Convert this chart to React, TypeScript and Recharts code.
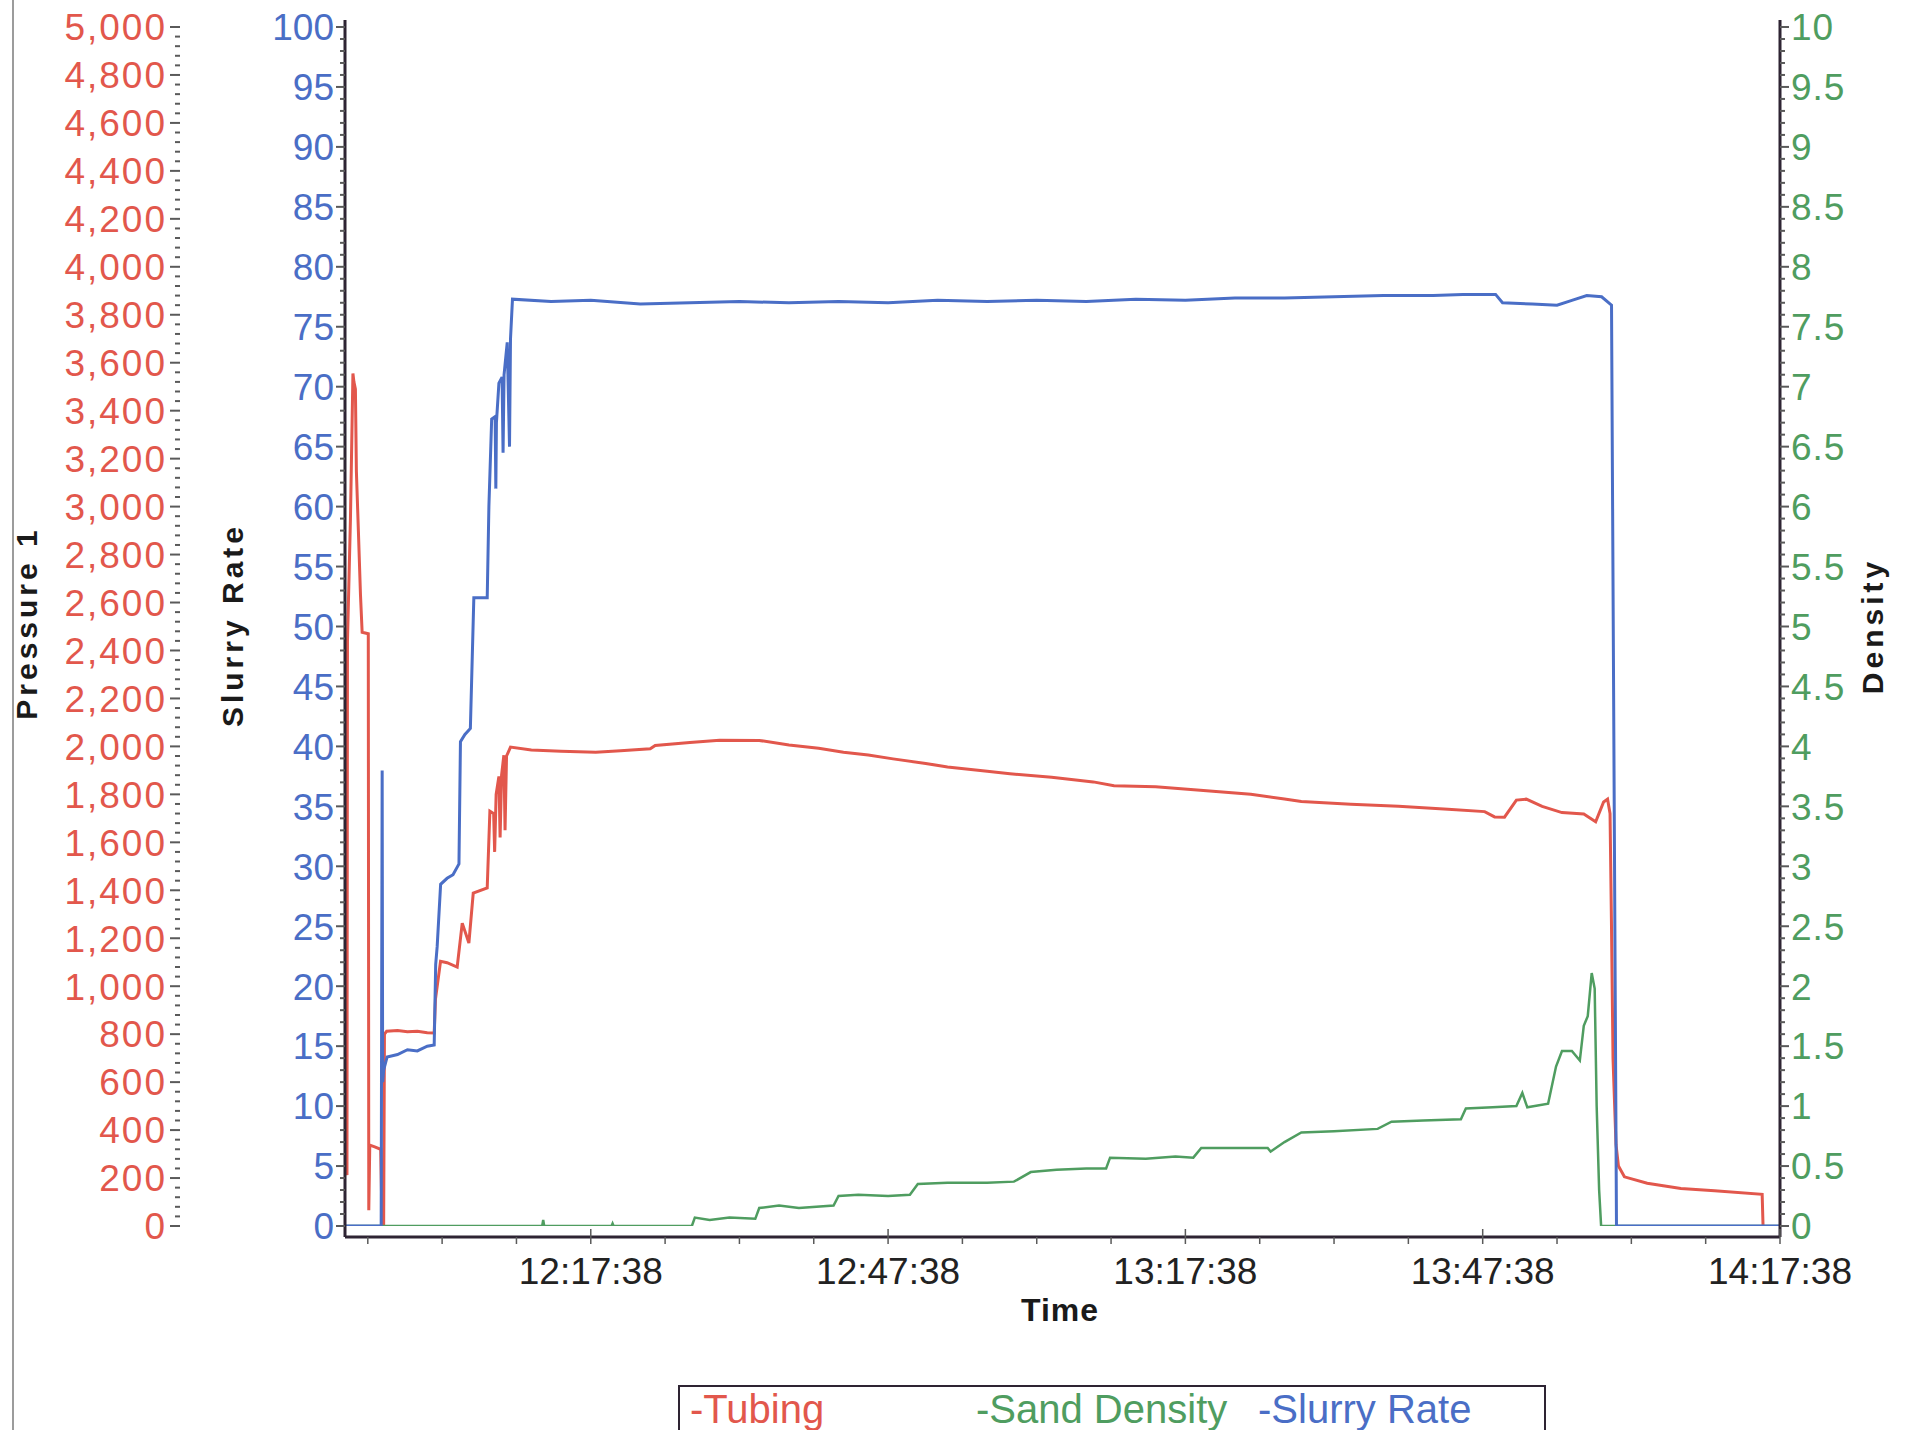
import React from "react";
import { LineChart, Line, XAxis, YAxis, Legend } from "recharts";

// time axis is in minutes after 11:47:38
const timeTicks = [30, 60, 90, 120, 150];
const timeTickLabels = ["12:17:38", "12:47:38", "13:17:38", "13:47:38", "14:17:38"];
const seriesNames = ["Tubing", "Sand Density", "Slurry Rate"];

// [minute, psi]
const tubing: [number, number][] = [
  [5.0, 215], [5.4, 218], [5.45, 2440], [5.75, 2950], [6.0, 3555], [6.1, 3520],
  [6.25, 3490], [6.35, 3146], [6.55, 2900], [6.76, 2634], [6.93, 2476], [7.55, 2470],
  [7.6, 66], [7.7, 337], [8.2, 330], [8.8, 320], [8.95, 0], [9.1, 0], [9.18, 800],
  [9.4, 812], [10.5, 815], [11.5, 810], [12.5, 812], [13.5, 806], [14.2, 805],
  [14.33, 946], [14.84, 1104], [15.5, 1098], [16.52, 1080], [17.03, 1263], [17.7, 1180],
  [18.14, 1388], [19.55, 1410], [19.82, 1730], [20.2, 1720], [20.3, 1560], [20.45, 1800],
  [20.73, 1875], [20.85, 1620], [21.0, 1880], [21.23, 1963], [21.35, 1650], [21.5, 1960],
  [21.9, 1997], [24, 1985], [27, 1980], [30.5, 1976], [33, 1982], [36, 1990], [36.5, 2004],
  [40, 2016], [43, 2026], [47, 2025], [50, 2006], [53, 1992], [55.5, 1976], [58, 1964],
  [60.5, 1948], [63.8, 1929], [66, 1914], [70, 1896], [72.3, 1886], [76.5, 1871],
  [80.7, 1852], [82.8, 1836], [87, 1832], [91.5, 1817], [96.6, 1800], [100, 1781],
  [101.7, 1770], [106.7, 1759], [111.5, 1750], [116.5, 1738], [120.2, 1728], [121.2, 1706],
  [122.2, 1705], [123.4, 1776], [124.4, 1780], [126, 1750], [128, 1724], [130.2, 1718],
  [131.4, 1686], [132.2, 1768], [132.6, 1780], [132.85, 1720], [133.0, 1240], [133.15, 700],
  [133.3, 520], [133.45, 340], [133.7, 250], [134.3, 205], [136.6, 178], [140, 156],
  [143.4, 147], [148.2, 132], [148.3, -15], [150, -19],
];

// [minute, density]
const sandDensity: [number, number][] = [
  [5.0, 0], [25.1, 0], [25.2, 0.05], [25.3, 0], [32.1, 0], [32.2, 0.02], [32.3, 0],
  [40.2, 0], [40.5, 0.07], [42, 0.05], [44, 0.07], [46.6, 0.06], [47.0, 0.15], [49, 0.17],
  [51, 0.15], [54.5, 0.17], [55.0, 0.25], [57, 0.26], [60, 0.25], [62.2, 0.26], [63.0, 0.35],
  [66, 0.36], [70, 0.36], [72.7, 0.37], [74.4, 0.45], [77, 0.47], [80, 0.48], [82.0, 0.48],
  [82.4, 0.57], [86, 0.56], [89, 0.58], [90.8, 0.57], [91.6, 0.65], [95, 0.65], [98.3, 0.65],
  [98.6, 0.62], [100, 0.7], [101.7, 0.78], [105, 0.79], [109.4, 0.81], [110.8, 0.87],
  [114, 0.88], [117.8, 0.89], [118.3, 0.98], [121, 0.99], [123.4, 1.0], [124.0, 1.11],
  [124.5, 0.99], [126.6, 1.02], [127.4, 1.33], [128.0, 1.46], [129.0, 1.46], [129.8, 1.38],
  [130.2, 1.67], [130.6, 1.75], [131.0, 2.11], [131.3, 1.98], [131.5, 1.0], [131.75, 0.3],
  [131.95, 0], [150, 0],
];

// [minute, bpm]
const slurryRate: [number, number][] = [
  [5.0, 0], [8.85, 0], [8.95, 38], [9.0, 12], [9.1, 13], [9.45, 14.1], [10.5, 14.3],
  [11.5, 14.7], [12.5, 14.6], [13.5, 15.0], [14.2, 15.1], [14.35, 21.8], [14.5, 23.3],
  [14.85, 28.5], [15.5, 29], [16.1, 29.3], [16.7, 30.2], [16.85, 40.4], [17.3, 41],
  [17.85, 41.5], [18.2, 52.4], [19.55, 52.4], [19.72, 60], [20.0, 67.3], [20.35, 67.5],
  [20.42, 61.5], [20.48, 67], [20.73, 70.3], [21.05, 70.8], [21.15, 64.5], [21.25, 71],
  [21.57, 73.7], [21.8, 65], [21.9, 74], [22.1, 77.3], [26, 77.1], [30, 77.2], [35, 76.9],
  [40, 77.0], [45, 77.1], [50, 77.0], [55, 77.1], [60, 77.0], [65, 77.2], [70, 77.1],
  [75, 77.2], [80, 77.1], [85, 77.3], [90, 77.2], [95, 77.4], [100, 77.4], [105, 77.5],
  [110, 77.6], [115, 77.6], [118, 77.7], [121.3, 77.7], [122, 77.0], [125, 76.9],
  [127.5, 76.8], [129, 77.2], [130.5, 77.6], [132, 77.5], [133.0, 76.8], [133.5, 0], [150, 0],
];

const RED = "#e2574c";
const BLUE = "#4a6ec6";
const GREEN = "#4f9d60";
const FRAME = "#2e2433";
const TICK = "#5a5a5a";
const FONT = "'Liberation Sans', Arial, sans-serif";

const toPoints = (rows: [number, number][]) => rows.map(([t, v]) => ({ t, v }));

const minorTimeTicks = Array.from({ length: 20 }, (_, i) => 7.5 * (i + 1));
const slurryTicks = Array.from({ length: 101 }, (_, i) => i);
const pressureTicks = Array.from({ length: 126 }, (_, i) => i * 40);
const densityTicks = Array.from({ length: 101 }, (_, i) => i / 10);

function TimeTick(props: any) {
  const { x, y, payload } = props;
  const idx = timeTicks.indexOf(payload.value);
  const major = idx >= 0;
  return (
    <g>
      <line x1={x} x2={x} y1={major ? y - 8 : y} y2={y + 7} stroke={TICK} strokeWidth={1.5} />
      {major && (
        <text x={x} y={y + 47} textAnchor="middle" fontSize={37} fill="#222" fontFamily={FONT}>
          {timeTickLabels[idx]}
        </text>
      )}
    </g>
  );
}

function PressureTick(props: any) {
  const { x, y, payload } = props;
  const v = payload.value;
  const major = v % 200 === 0;
  return (
    <g>
      <line x1={major ? x - 12 : x - 7} x2={x - 2} y1={y} y2={y} stroke={TICK} strokeWidth={2} />
      {major && (
        <text x={x - 15} y={y} dy="0.36em" textAnchor="end" fontSize={37} letterSpacing={2} fill={RED} fontFamily={FONT}>
          {v.toLocaleString("en-US")}
        </text>
      )}
    </g>
  );
}

function SlurryTick(props: any) {
  const { x, y, payload } = props;
  const v = payload.value;
  const major = v % 5 === 0;
  return (
    <g>
      <line x1={major ? x - 9 : x - 5} x2={x} y1={y} y2={y} stroke={TICK} strokeWidth={2} />
      {major && (
        <text x={x - 11} y={y} dy="0.36em" textAnchor="end" fontSize={37} fill={BLUE} fontFamily={FONT}>
          {v}
        </text>
      )}
    </g>
  );
}

function DensityTick(props: any) {
  const { x, y, payload } = props;
  const v = payload.value;
  const major = Math.abs(v * 2 - Math.round(v * 2)) < 1e-6;
  return (
    <g>
      <line x1={x} x2={major ? x + 9 : x + 5} y1={y} y2={y} stroke={TICK} strokeWidth={2} />
      {major && (
        <text x={x + 11} y={y} dy="0.36em" textAnchor="start" fontSize={37} letterSpacing={1} fill={GREEN} fontFamily={FONT}>
          {String(Math.round(v * 10) / 10)}
        </text>
      )}
    </g>
  );
}

function AxisTitle({ cx, cy, text, rotate }: { cx: number; cy: number; text: string; rotate?: boolean }) {
  return (
    <text
      x={cx}
      y={cy}
      transform={rotate ? `rotate(-90 ${cx} ${cy})` : undefined}
      textAnchor="middle"
      dominantBaseline="central"
      fontSize={rotate ? 30 : 32}
      fontWeight="bold"
      letterSpacing={rotate ? 4 : 1}
      fill="#1a1a1a"
      fontFamily={FONT}
    >
      {text}
    </text>
  );
}

function LegendBox(props: any) {
  const offsets = [10, 296, 578];
  const entries = [...(props.payload || [])].sort(
    (a: any, b: any) => seriesNames.indexOf(a.value) - seriesNames.indexOf(b.value)
  );
  return (
    <div
      style={{
        position: "relative",
        width: 868,
        height: 80,
        border: `2px solid ${FRAME}`,
        boxSizing: "border-box",
        background: "#fff",
        fontFamily: FONT,
      }}
    >
      {entries.map((entry: any, i: number) => (
        <span
          key={entry.value}
          style={{
            position: "absolute",
            left: offsets[i],
            top: 2,
            fontSize: 40,
            lineHeight: "40px",
            color: entry.color,
            whiteSpace: "nowrap",
          }}
        >
          -{entry.value}
        </span>
      ))}
    </div>
  );
}

export default function App() {
  const pad = { top: 7, bottom: 11 };
  return (
    <div
      style={{
        position: "absolute",
        left: 0,
        top: 0,
        width: 1916,
        height: 1430,
        overflow: "hidden",
        background: "#fff",
        fontFamily: FONT,
      }}
    >
      <div style={{ position: "absolute", left: 12, top: 0, width: 2, height: 1430, background: "#9c9c9c" }} />
      <LineChart width={1916} height={1430} margin={{ top: 20, right: 0, bottom: 0, left: 0 }}>
        <XAxis
          xAxisId="time"
          dataKey="t"
          type="number"
          domain={[5.2, 150]}
          allowDataOverflow
          ticks={minorTimeTicks}
          interval={0}
          tick={<TimeTick />}
          tickLine={false}
          tickSize={0}
          tickMargin={0}
          height={193}
          axisLine={{ stroke: FRAME, strokeWidth: 3 }}
          label={<AxisTitle cx={1060} cy={1310} text="Time" />}
        />
        <XAxis
          xAxisId="frame"
          orientation="top"
          type="number"
          domain={[5.2, 150]}
          height={0}
          tick={false}
          tickLine={false}
          axisLine={{ stroke: FRAME, strokeWidth: 3 }}
        />
        <YAxis
          yAxisId="a-slurry"
          orientation="left"
          type="number"
          domain={[0, 100]}
          allowDataOverflow
          padding={pad}
          width={163}
          ticks={slurryTicks}
          interval={0}
          tick={<SlurryTick />}
          tickLine={false}
          tickSize={0}
          tickMargin={0}
          axisLine={{ stroke: FRAME, strokeWidth: 3 }}
          label={<AxisTitle cx={232} cy={625} text="Slurry Rate" rotate />}
        />
        <YAxis
          yAxisId="b-pressure"
          orientation="left"
          type="number"
          domain={[0, 5000]}
          allowDataOverflow
          padding={pad}
          width={182}
          ticks={pressureTicks}
          interval={0}
          tick={<PressureTick />}
          tickLine={false}
          tickSize={0}
          tickMargin={0}
          axisLine={false}
          label={<AxisTitle cx={26} cy={623} text="Pressure 1" rotate />}
        />
        <YAxis
          yAxisId="c-density"
          orientation="right"
          type="number"
          domain={[0, 10]}
          allowDataOverflow
          padding={pad}
          width={136}
          ticks={densityTicks}
          interval={0}
          tick={<DensityTick />}
          tickLine={false}
          tickSize={0}
          tickMargin={0}
          axisLine={{ stroke: FRAME, strokeWidth: 3 }}
          label={<AxisTitle cx={1872} cy={626} text="Density" rotate />}
        />
        <Legend
          layout="vertical"
          align="center"
          verticalAlign="middle"
          wrapperStyle={{ left: 678, top: 1385, width: 868, height: 80 }}
          content={<LegendBox />}
        />
        <Line
          name="Tubing"
          data={toPoints(tubing)}
          dataKey="v"
          xAxisId="time"
          yAxisId="b-pressure"
          type="linear"
          stroke={RED}
          strokeWidth={3}
          dot={false}
          isAnimationActive={false}
        />
        <Line
          name="Sand Density"
          data={toPoints(sandDensity)}
          dataKey="v"
          xAxisId="time"
          yAxisId="c-density"
          type="linear"
          stroke={GREEN}
          strokeWidth={2.5}
          dot={false}
          isAnimationActive={false}
        />
        <Line
          name="Slurry Rate"
          data={toPoints(slurryRate)}
          dataKey="v"
          xAxisId="time"
          yAxisId="a-slurry"
          type="linear"
          stroke={BLUE}
          strokeWidth={3}
          dot={false}
          isAnimationActive={false}
        />
      </LineChart>
    </div>
  );
}
